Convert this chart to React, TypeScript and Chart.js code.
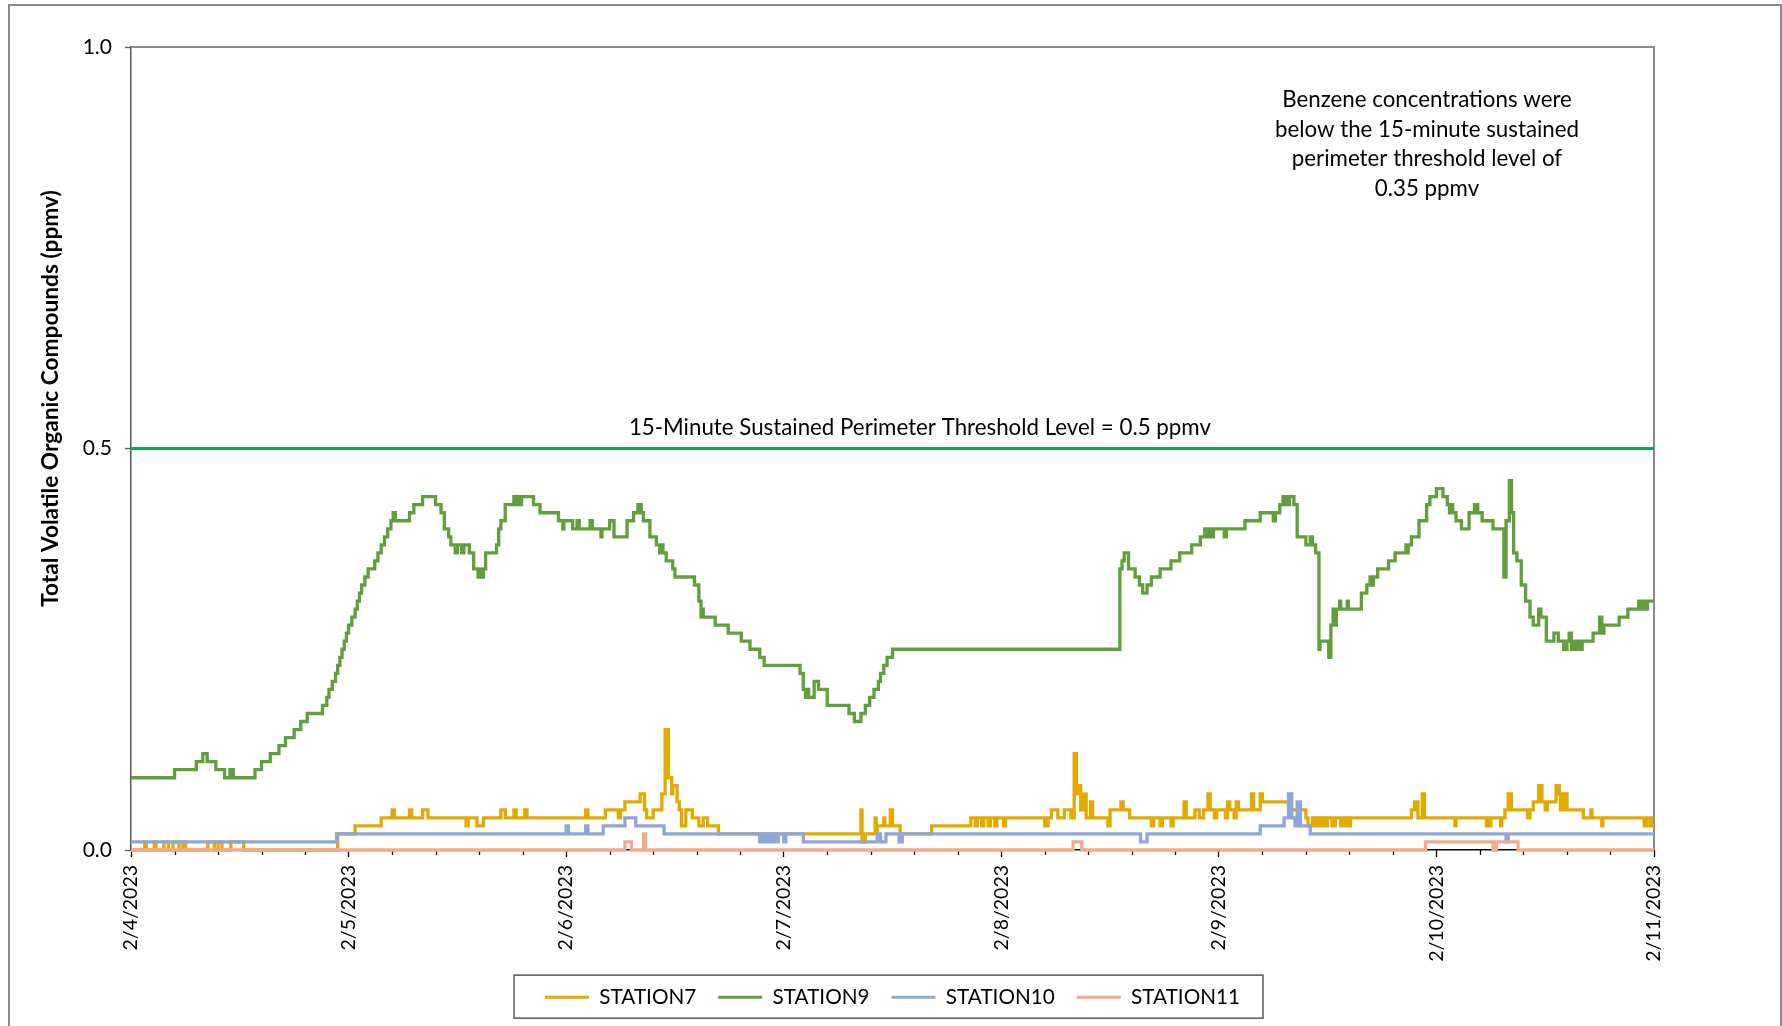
import React, { useEffect, useRef } from 'react';
import { Chart, registerables } from 'chart.js';

Chart.register(...registerables);

// ---------- data ----------
const dateLabels = ['2/4/2023', '2/5/2023', '2/6/2023', '2/7/2023', '2/8/2023', '2/9/2023', '2/10/2023', '2/11/2023'];
const yTickStep = 0.5;
const stationNames = ['STATION7', 'STATION9', 'STATION10', 'STATION11'];
const thresholdValue = 0.5;
const thresholdLabel = '15-Minute Sustained Perimeter Threshold Level = 0.5 ppmv';
const noteLines = ['Benzene concentrations were', 'below the 15-minute sustained', 'perimeter threshold level of', '0.35 ppmv'];
const yAxisTitle = 'Total Volatile Organic Compounds (ppmv)';

// [day offset from 2/4/2023, ppmv] change points
const station7: [number, number][] = [
  [0, 0], [0.063, 0.01], [0.07, 0], [0.107, 0.01], [0.115, 0], [0.151, 0.01], [0.172, 0], [0.193, 0.01], [0.221, 0],
  [0.239, 0.01], [0.251, 0], [0.353, 0.01], [0.383, 0], [0.4, 0.01], [0.418, 0], [0.459, 0.01], [0.518, 0],
  [0.95, 0.02], [1.03, 0.03], [1.15, 0.04], [1.2, 0.05], [1.21, 0.04], [1.28, 0.05], [1.29, 0.04], [1.34, 0.05],
  [1.365, 0.04], [1.54, 0.03], [1.55, 0.04], [1.59, 0.03], [1.62, 0.04], [1.7, 0.05], [1.72, 0.04], [1.76, 0.05],
  [1.77, 0.04], [1.81, 0.05], [1.82, 0.04], [2.09, 0.05], [2.1, 0.04], [2.18, 0.05], [2.24, 0.04], [2.25, 0.05],
  [2.27, 0.06], [2.34, 0.07], [2.36, 0.05], [2.37, 0.04], [2.4, 0.05], [2.44, 0.07], [2.455, 0.15], [2.47, 0.09],
  [2.485, 0.07], [2.49, 0.08], [2.51, 0.06], [2.52, 0.05], [2.53, 0.03], [2.55, 0.05], [2.58, 0.04], [2.61, 0.03],
  [2.63, 0.04], [2.65, 0.03], [2.7, 0.02], [3.355, 0.05], [3.36, 0.01], [3.375, 0.02], [3.42, 0.04], [3.425, 0.02],
  [3.43, 0.03], [3.46, 0.04], [3.465, 0.03], [3.49, 0.05], [3.5, 0.03], [3.535, 0.02], [3.68, 0.03], [3.86, 0.04],
  [3.88, 0.03], [3.89, 0.04], [3.91, 0.03], [3.92, 0.04], [3.94, 0.03], [3.95, 0.04], [3.97, 0.03], [3.98, 0.04],
  [4.01, 0.03], [4.02, 0.04], [4.2, 0.03], [4.215, 0.04], [4.23, 0.05], [4.26, 0.04], [4.29, 0.05], [4.32, 0.04],
  [4.335, 0.12], [4.345, 0.07], [4.355, 0.08], [4.365, 0.05], [4.38, 0.07], [4.39, 0.04], [4.41, 0.06], [4.42, 0.04],
  [4.49, 0.03], [4.5, 0.05], [4.55, 0.06], [4.56, 0.05], [4.59, 0.04], [4.69, 0.03], [4.7, 0.04], [4.73, 0.03],
  [4.74, 0.04], [4.78, 0.03], [4.79, 0.04], [4.84, 0.06], [4.85, 0.04], [4.89, 0.05], [4.91, 0.04], [4.93, 0.05],
  [4.95, 0.07], [4.96, 0.05], [4.98, 0.04], [4.99, 0.05], [5.03, 0.04], [5.04, 0.06], [5.05, 0.05], [5.07, 0.04],
  [5.08, 0.06], [5.09, 0.05], [5.15, 0.07], [5.16, 0.05], [5.19, 0.07], [5.2, 0.06], [5.33, 0.05], [5.4, 0.04],
  [5.41, 0.03], [5.43, 0.04], [5.44, 0.03], [5.45, 0.04], [5.46, 0.03], [5.475, 0.04], [5.49, 0.03], [5.5, 0.04],
  [5.52, 0.03], [5.535, 0.04], [5.56, 0.03], [5.575, 0.04], [5.59, 0.03], [5.605, 0.04], [5.885, 0.05], [5.9, 0.06],
  [5.915, 0.04], [5.935, 0.07], [5.945, 0.04], [6.085, 0.03], [6.09, 0.04], [6.23, 0.03], [6.235, 0.04], [6.245, 0.03],
  [6.25, 0.04], [6.295, 0.03], [6.3, 0.04], [6.315, 0.05], [6.33, 0.07], [6.345, 0.05], [6.42, 0.04], [6.43, 0.05],
  [6.445, 0.06], [6.47, 0.08], [6.485, 0.06], [6.5, 0.05], [6.51, 0.06], [6.55, 0.08], [6.565, 0.07], [6.57, 0.05],
  [6.585, 0.07], [6.6, 0.05], [6.675, 0.04], [6.71, 0.05], [6.715, 0.04], [6.76, 0.03], [6.765, 0.04], [6.955, 0.03],
  [6.96, 0.04], [6.97, 0.03], [6.98, 0.04], [6.99, 0.03], [7, 0.03],
];

const station9: [number, number][] = [
  [0, 0.09], [0.2, 0.1], [0.3, 0.11], [0.33, 0.12], [0.35, 0.11], [0.39, 0.1], [0.43, 0.09], [0.455, 0.1], [0.47, 0.09],
  [0.57, 0.1], [0.6, 0.11], [0.64, 0.12], [0.68, 0.13], [0.71, 0.14], [0.75, 0.15], [0.78, 0.16], [0.81, 0.17],
  [0.88, 0.18], [0.9, 0.19], [0.91, 0.2], [0.925, 0.21], [0.94, 0.22], [0.95, 0.23], [0.96, 0.24], [0.97, 0.25],
  [0.98, 0.26], [0.99, 0.27], [1.0, 0.28], [1.015, 0.29], [1.03, 0.3], [1.04, 0.31], [1.05, 0.32], [1.06, 0.33],
  [1.075, 0.34], [1.09, 0.35], [1.12, 0.36], [1.135, 0.37], [1.15, 0.38], [1.165, 0.39], [1.18, 0.4], [1.195, 0.41],
  [1.205, 0.42], [1.215, 0.41], [1.28, 0.42], [1.3, 0.43], [1.34, 0.44], [1.4, 0.43], [1.425, 0.42], [1.44, 0.4],
  [1.46, 0.39], [1.47, 0.38], [1.49, 0.37], [1.5, 0.38], [1.52, 0.37], [1.53, 0.38], [1.555, 0.37], [1.575, 0.35],
  [1.595, 0.34], [1.605, 0.35], [1.61, 0.34], [1.62, 0.35], [1.63, 0.37], [1.68, 0.38], [1.69, 0.4], [1.7, 0.41],
  [1.72, 0.43], [1.76, 0.44], [1.77, 0.43], [1.775, 0.44], [1.79, 0.43], [1.795, 0.44], [1.85, 0.43], [1.88, 0.42],
  [1.965, 0.41], [1.985, 0.4], [1.99, 0.41], [2.03, 0.4], [2.05, 0.41], [2.06, 0.4], [2.11, 0.41], [2.12, 0.4],
  [2.16, 0.39], [2.165, 0.4], [2.2, 0.41], [2.22, 0.39], [2.28, 0.41], [2.31, 0.42], [2.33, 0.43], [2.345, 0.42],
  [2.355, 0.41], [2.385, 0.39], [2.415, 0.38], [2.43, 0.37], [2.44, 0.38], [2.445, 0.37], [2.46, 0.36], [2.49, 0.35],
  [2.5, 0.34], [2.59, 0.33], [2.61, 0.31], [2.62, 0.29], [2.625, 0.3], [2.63, 0.29], [2.685, 0.28], [2.745, 0.27],
  [2.805, 0.26], [2.845, 0.25], [2.89, 0.24], [2.91, 0.23], [3.075, 0.22], [3.09, 0.2], [3.1, 0.19], [3.11, 0.2],
  [3.115, 0.19], [3.14, 0.21], [3.16, 0.2], [3.2, 0.18], [3.3, 0.17], [3.325, 0.16], [3.355, 0.17], [3.375, 0.18],
  [3.395, 0.19], [3.415, 0.2], [3.435, 0.21], [3.445, 0.22], [3.46, 0.23], [3.475, 0.24], [3.5, 0.25], [4.545, 0.35],
  [4.555, 0.36], [4.565, 0.37], [4.585, 0.35], [4.615, 0.34], [4.635, 0.33], [4.65, 0.32], [4.67, 0.33], [4.69, 0.34],
  [4.73, 0.35], [4.78, 0.36], [4.82, 0.37], [4.875, 0.38], [4.915, 0.39], [4.935, 0.4], [4.945, 0.39], [4.955, 0.4],
  [4.965, 0.39], [4.975, 0.4], [5.025, 0.39], [5.035, 0.4], [5.12, 0.41], [5.19, 0.42], [5.25, 0.41], [5.26, 0.42],
  [5.28, 0.43], [5.295, 0.44], [5.3, 0.43], [5.31, 0.44], [5.32, 0.43], [5.325, 0.44], [5.345, 0.43], [5.36, 0.39],
  [5.4, 0.38], [5.42, 0.39], [5.43, 0.38], [5.445, 0.37], [5.46, 0.25], [5.465, 0.26], [5.505, 0.24], [5.515, 0.28],
  [5.525, 0.3], [5.53, 0.28], [5.54, 0.3], [5.555, 0.31], [5.56, 0.3], [5.59, 0.31], [5.595, 0.3], [5.655, 0.32],
  [5.68, 0.33], [5.695, 0.34], [5.7, 0.33], [5.71, 0.34], [5.73, 0.35], [5.78, 0.36], [5.81, 0.37], [5.86, 0.38],
  [5.865, 0.37], [5.87, 0.38], [5.885, 0.39], [5.92, 0.41], [5.955, 0.43], [5.97, 0.44], [6.0, 0.45], [6.03, 0.44],
  [6.05, 0.43], [6.06, 0.42], [6.065, 0.43], [6.075, 0.42], [6.09, 0.41], [6.115, 0.4], [6.15, 0.42], [6.175, 0.43],
  [6.19, 0.42], [6.21, 0.41], [6.26, 0.4], [6.31, 0.34], [6.32, 0.41], [6.335, 0.46], [6.345, 0.42], [6.355, 0.37],
  [6.37, 0.36], [6.39, 0.33], [6.41, 0.31], [6.43, 0.29], [6.445, 0.28], [6.47, 0.3], [6.48, 0.29], [6.505, 0.26],
  [6.54, 0.27], [6.56, 0.26], [6.585, 0.25], [6.6, 0.26], [6.61, 0.27], [6.62, 0.25], [6.63, 0.26], [6.64, 0.25],
  [6.65, 0.26], [6.66, 0.25], [6.67, 0.26], [6.72, 0.27], [6.75, 0.29], [6.76, 0.27], [6.77, 0.28], [6.84, 0.29],
  [6.88, 0.3], [6.93, 0.31], [6.94, 0.3], [6.95, 0.31], [6.96, 0.3], [6.97, 0.31], [7, 0.31],
];

const station10: [number, number][] = [
  [0, 0.01], [0.945, 0.02], [2.0, 0.03], [2.01, 0.02], [2.09, 0.03], [2.1, 0.02], [2.17, 0.03], [2.27, 0.04],
  [2.32, 0.03], [2.45, 0.02], [2.89, 0.01], [2.905, 0.02], [2.91, 0.01], [2.925, 0.02], [2.935, 0.01], [2.95, 0.02],
  [2.965, 0.01], [2.975, 0.02], [3.0, 0.01], [3.01, 0.02], [3.09, 0.01], [3.43, 0.02], [3.445, 0.01], [3.47, 0.02],
  [3.53, 0.01], [3.545, 0.02], [4.64, 0.01], [4.67, 0.02], [5.19, 0.03], [5.3, 0.04], [5.32, 0.07], [5.335, 0.04],
  [5.35, 0.03], [5.36, 0.06], [5.375, 0.03], [5.42, 0.02], [6.32, 0.01], [6.33, 0.02], [7, 0.02],
];

const station11: [number, number][] = [
  [0, 0], [2.27, 0.01], [2.3, 0], [2.355, 0.02], [2.365, 0], [4.33, 0.01], [4.37, 0], [5.95, 0.01], [6.26, 0],
  [6.275, 0.01], [6.375, 0], [7, 0],
];

const seriesData = [station7, station9, station10, station11];
const seriesColors = ['#E2AA00', '#629E3C', '#8EA6D9', '#F2AA8E'];

const FONT = "Lato, 'Open Sans', sans-serif";
Chart.defaults.font.family = FONT;

const decorPlugin = {
  id: 'decor',
  beforeDatasetsDraw(chart: any) {
    const { ctx, chartArea: a, scales } = chart;
    const x = scales.x;
    ctx.save();
    ctx.strokeStyle = '#8c8c8c';
    ctx.lineWidth = 2;
    ctx.beginPath();
    ctx.moveTo(a.left, a.top);
    ctx.lineTo(a.right, a.top);
    ctx.lineTo(a.right, a.bottom);
    ctx.stroke();
    // minor ticks every 0.2 day
    ctx.strokeStyle = '#000';
    ctx.lineWidth = 1.3;
    ctx.beginPath();
    for (let d = 0; d < dateLabels.length - 1; d++) {
      for (let j = 1; j < 5; j++) {
        const px = Math.round(x.getPixelForValue(d + j / 5)) + 0.5;
        ctx.moveTo(px, a.bottom);
        ctx.lineTo(px, a.bottom + 5);
      }
    }
    ctx.stroke();
    ctx.restore();
  },
  afterDraw(chart: any) {
    const { ctx, chartArea: a, scales, legend } = chart;
    const y = scales.y;
    ctx.save();
    ctx.fillStyle = '#000';
    // y axis title
    ctx.save();
    ctx.translate(51, (a.top + a.bottom) / 2 - 50);
    ctx.rotate(-Math.PI / 2);
    ctx.font = `bold 22.7px ${FONT}`;
    ctx.textAlign = 'center';
    ctx.textBaseline = 'middle';
    ctx.fillText(yAxisTitle, 0, 0);
    ctx.restore();
    // threshold label
    ctx.font = `22.3px ${FONT}`;
    ctx.textAlign = 'center';
    ctx.textBaseline = 'middle';
    ctx.fillText(thresholdLabel, a.left + (a.right - a.left) * 0.518, y.getPixelForValue(thresholdValue) - 21);
    // note
    const noteX = a.right - 227;
    noteLines.forEach((line, i) => ctx.fillText(line, noteX, a.top + 53 + i * 29.6));
    // legend border
    if (legend && legend.legendHitBoxes && legend.legendHitBoxes.length) {
      const hb = legend.legendHitBoxes;
      const first = hb[0];
      const last = hb[hb.length - 1];
      const cy = first.top + first.height / 2;
      ctx.strokeStyle = '#595959';
      ctx.lineWidth = 1.5;
      ctx.strokeRect(first.left - 31, cy - 22, last.left + last.width + 23 - (first.left - 31), 43);
    }
    ctx.restore();
  },
};

export default function App() {
  const canvasRef = useRef<HTMLCanvasElement>(null);

  useEffect(() => {
    const datasets: any[] = stationNames.map((name, i) => ({
      label: name,
      data: seriesData[i].map(([d, v]) => ({ x: d, y: v })),
      borderColor: seriesColors[i],
      backgroundColor: seriesColors[i],
      borderWidth: 3.3,
      pointRadius: 0,
      stepped: true,
      clip: false,
      order: 4 - i,
    }));
    datasets.push({
      label: 'Threshold',
      data: [{ x: 0, y: thresholdValue }, { x: dateLabels.length - 1, y: thresholdValue }],
      borderColor: '#00B050',
      backgroundColor: '#00B050',
      borderWidth: 2.8,
      pointRadius: 0,
      clip: false,
      order: 10,
    });

    const chart = new Chart(canvasRef.current as HTMLCanvasElement, {
      type: 'line',
      data: { datasets },
      plugins: [decorPlugin],
      options: {
        responsive: false,
        animation: false,
        devicePixelRatio: 1,
        layout: { padding: { left: 0, top: 47, right: 128, bottom: 8.5 } },
        plugins: {
          tooltip: { enabled: false },
          legend: {
            position: 'bottom',
            fullSize: false,
            labels: {
              boxWidth: 44,
              boxHeight: 3,
              padding: 22,
              color: '#000',
              font: { size: 20.7 },
              generateLabels: (c: any) =>
                c.data.datasets
                  .map((ds: any, i: number) => ({
                    text: ds.label,
                    fillStyle: ds.borderColor,
                    strokeStyle: ds.borderColor,
                    lineWidth: 0,
                    hidden: false,
                    datasetIndex: i,
                  }))
                  .filter((it: any) => it.datasetIndex < stationNames.length),
            },
          },
        },
        scales: {
          x: {
            type: 'linear',
            min: 0,
            max: dateLabels.length - 1,
            afterFit: (s: any) => { s.height = 114.8; },
            afterBuildTicks: (s: any) => { s.ticks = dateLabels.map((_, i) => ({ value: i })); },
            ticks: {
              stepSize: 1,
              autoSkip: false,
              maxRotation: 90,
              minRotation: 90,
              padding: 8,
              color: '#000',
              font: { size: 19.5 },
              callback: (v: any) => dateLabels[Math.round(Number(v))] ?? '',
            },
            grid: { drawOnChartArea: false, drawTicks: true, tickLength: 7, tickColor: '#000', tickWidth: 1.3 },
            border: { display: true, color: '#000', width: 1.5 },
          },
          y: {
            min: 0,
            max: 1,
            afterFit: (s: any) => { s.width = 131; },
            ticks: {
              stepSize: yTickStep,
              padding: 13,
              color: '#000',
              font: { size: 21 },
              callback: (v: any) => Number(v).toFixed(1),
            },
            grid: { drawOnChartArea: false, drawTicks: true, tickLength: 6, tickColor: '#595959', tickWidth: 1.3 },
            border: { display: true, color: '#595959', width: 1.5 },
          },
        },
      } as any,
    });
    return () => chart.destroy();
  }, []);

  return (
    <div style={{ position: 'fixed', left: 0, top: 0, width: 1782, height: 1026, overflow: 'hidden', background: '#fff' }}>
      <div style={{ position: 'absolute', left: 8, top: 4, width: 1774, height: 1100, border: '2px solid #8c8c8c', boxSizing: 'border-box' }} />
      <canvas ref={canvasRef} width={1782} height={1026} style={{ position: 'absolute', left: 0, top: 0, width: 1782, height: 1026 }} />
    </div>
  );
}
